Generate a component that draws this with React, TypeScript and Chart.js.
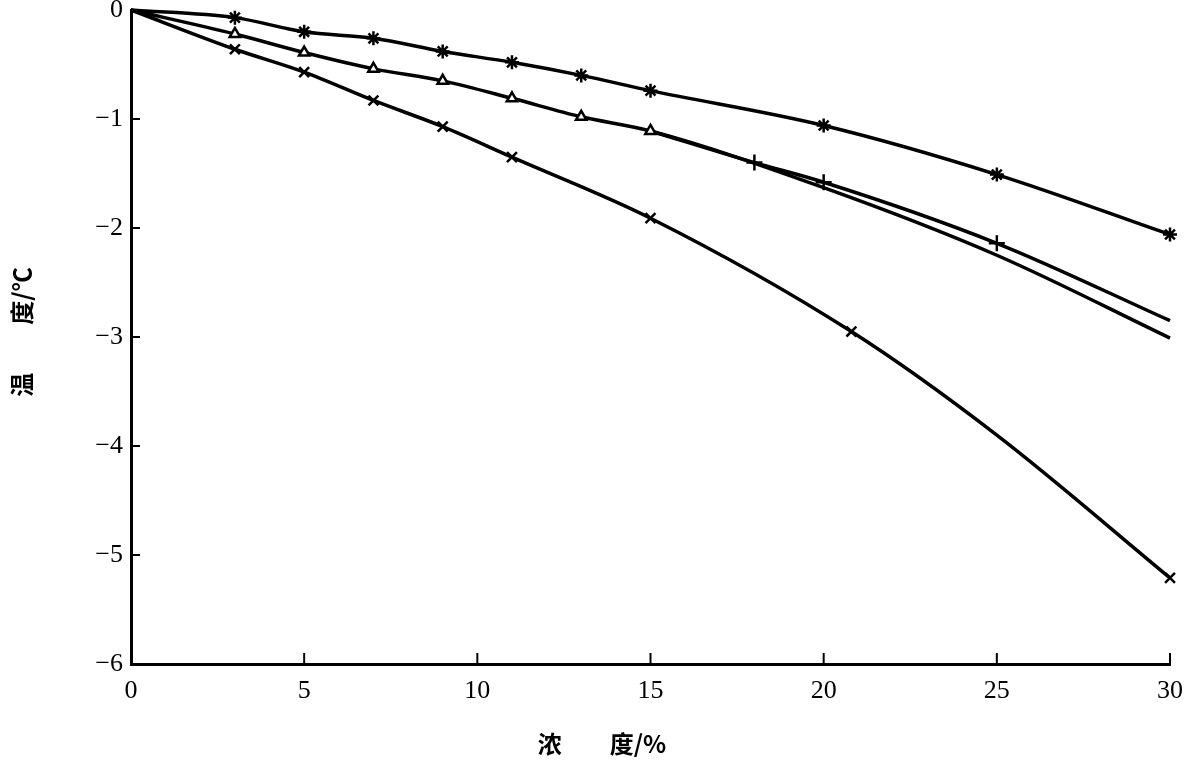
import { useEffect, useRef } from "react";
import { Chart, registerables } from "chart.js";
Chart.register(...registerables);

// Axis ticks
const xTickValues = [0, 5, 10, 15, 20, 25, 30];
const yTickValues = [0, -1, -2, -3, -4, -5, -6];

// Series 1: star markers
const starX = [0, 3, 5, 7, 9, 11, 13, 15, 20, 25, 30];
const starY = [0, -0.07, -0.2, -0.26, -0.38, -0.48, -0.6, -0.74, -1.06, -1.51, -2.06];
const starMarked = [false, true, true, true, true, true, true, true, true, true, true];

// Series 2: triangle markers
const triX = [0, 3, 5, 7, 9, 11, 13, 15, 20, 25, 30];
const triY = [0, -0.22, -0.39, -0.54, -0.65, -0.81, -0.98, -1.11, -1.63, -2.25, -3.01];
const triMarked = [false, true, true, true, true, true, true, true, false, false, false];

// Series 3: plus markers (branches off series 2 after 15)
const plusX = [15, 18, 20, 25, 30];
const plusY = [-1.11, -1.4, -1.58, -2.14, -2.85];
const plusMarked = [false, true, true, true, false];

// Series 4: x markers
const crossX = [0, 3, 5, 7, 9, 11, 15, 20.8, 25, 30];
const crossY = [0, -0.36, -0.57, -0.83, -1.07, -1.35, -1.91, -2.95, -3.9, -5.21];
const crossMarked = [false, true, true, true, true, true, true, true, false, true];

const xTitle = "浓\u3000\u3000度/%";
const yTitle = "温\u3000\u3000度/℃";

const SERIF = '"Liberation Serif", "DejaVu Serif", serif';
const CJK = '"Noto Sans CJK SC", sans-serif';

function pts(xs: number[], ys: number[]) {
  return xs.map((x, i) => ({ x, y: ys[i] }));
}
function radii(marks: boolean[], r: number) {
  return marks.map((m) => (m ? r : 0));
}

const decorPlugin = {
  id: "decor",
  afterDraw(chart: any) {
    const ctx = chart.ctx;
    const xs = chart.scales.x;
    const ys = chart.scales.y;
    const area = chart.chartArea;
    ctx.save();
    ctx.strokeStyle = "#000";
    ctx.lineWidth = 2;
    // inward ticks on x axis
    xTickValues.forEach((v) => {
      if (v === 0) return;
      const px = xs.getPixelForValue(v);
      ctx.beginPath();
      ctx.moveTo(px, area.bottom);
      ctx.lineTo(px, area.bottom - 11);
      ctx.stroke();
    });
    // inward ticks on y axis
    yTickValues.forEach((v) => {
      if (v === 0 || v === -6) return;
      const py = ys.getPixelForValue(v);
      ctx.beginPath();
      ctx.moveTo(area.left, py);
      ctx.lineTo(area.left + 9, py);
      ctx.stroke();
    });
    // axis titles
    ctx.fillStyle = "#000";
    ctx.font = "bold 24px " + CJK;
    ctx.textAlign = "center";
    ctx.textBaseline = "middle";
    ctx.fillText(xTitle, 602, 744);
    ctx.translate(22, 332);
    ctx.rotate(-Math.PI / 2);
    ctx.fillText(yTitle, 0, 0);
    ctx.restore();
  },
};

export default function App() {
  const ref = useRef<HTMLCanvasElement>(null);
  useEffect(() => {
    document.body.style.margin = "0";
    const common = {
      borderColor: "#000",
      backgroundColor: "#fff",
      pointBorderColor: "#000",
      borderWidth: 3.5,
      pointBorderWidth: 2.5,
      cubicInterpolationMode: "monotone" as const,
      showLine: true,
      clip: false as const,
    };
    const chart = new Chart(ref.current!, {
      type: "scatter",
      data: {
        datasets: [
          {
            ...common,
            label: "star",
            data: pts(starX, starY),
            pointStyle: "star",
            pointRadius: radii(starMarked, 7),
            pointBackgroundColor: "#000",
          },
          {
            ...common,
            label: "triangle",
            data: pts(triX, triY),
            pointStyle: "triangle",
            pointRadius: radii(triMarked, 6),
            pointBackgroundColor: "#fff",
          },
          {
            ...common,
            label: "plus",
            data: pts(plusX, plusY),
            pointStyle: "cross",
            pointRadius: radii(plusMarked, 8),
          },
          {
            ...common,
            label: "x",
            data: pts(crossX, crossY),
            pointStyle: "crossRot",
            pointRadius: radii(crossMarked, 7),
          },
        ],
      },
      options: {
        animation: false,
        responsive: false,
        maintainAspectRatio: false,
        layout: { padding: { left: 0, right: 20, top: 10, bottom: 0 } },
        plugins: { legend: { display: false }, tooltip: { enabled: false } },
        scales: {
          x: {
            type: "linear",
            min: 0,
            max: 30,
            afterFit: (s: any) => {
              s.height = 100;
              s.paddingLeft = 0;
              s.paddingRight = 0;
            },
            afterBuildTicks: (s: any) => {
              s.ticks = xTickValues.map((v) => ({ value: v }));
            },
            grid: { display: false, drawTicks: false },
            border: { display: true, color: "#000", width: 3 },
            ticks: {
              color: "#000",
              padding: 12,
              maxRotation: 0,
              font: { family: SERIF, size: 26 },
              callback: (v: any) => String(v),
            },
          },
          y: {
            type: "linear",
            min: -6,
            max: 0,
            afterFit: (s: any) => {
              s.width = 131;
              s.paddingTop = 0;
              s.paddingBottom = 0;
            },
            afterBuildTicks: (s: any) => {
              s.ticks = yTickValues.map((v) => ({ value: v }));
            },
            grid: { display: false, drawTicks: false },
            border: { display: true, color: "#000", width: 3 },
            ticks: {
              color: "#000",
              padding: 8,
              font: { family: SERIF, size: 26 },
              callback: (v: any) => (Number(v) < 0 ? "\u2212" + Math.abs(Number(v)) : String(v)),
            },
          },
        },
      },
      plugins: [decorPlugin],
    });
    return () => chart.destroy();
  }, []);
  return (
    <div style={{ width: 1190, height: 764, background: "#fff" }}>
      <canvas ref={ref} width={1190} height={764} style={{ display: "block" }} />
    </div>
  );
}
